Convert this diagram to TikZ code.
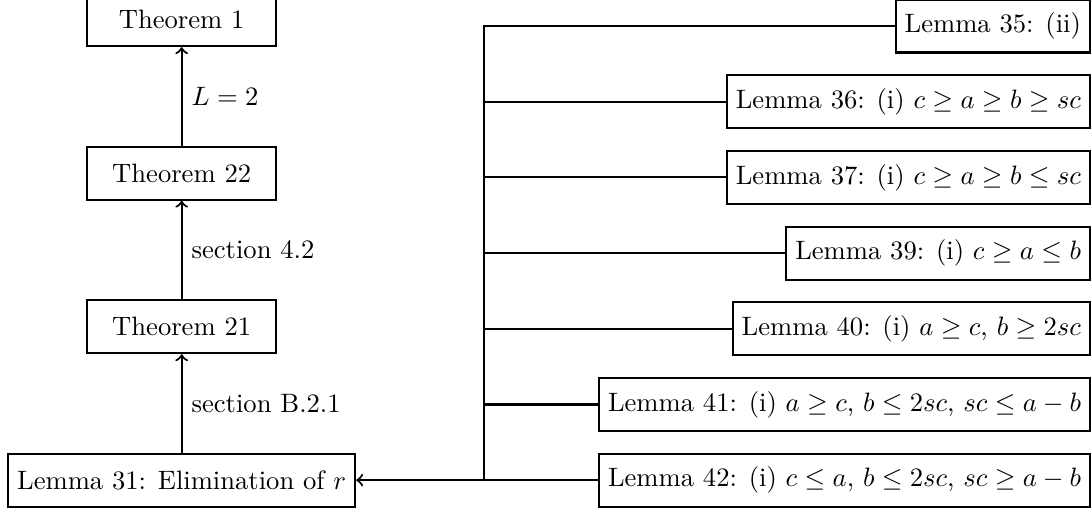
\documentclass[tikz,border=0pt]{standalone}
\usepackage{amsmath}
\usetikzlibrary{positioning,calc}

\begin{document}
\begin{tikzpicture}[thick]
    \useasboundingbox (0,0.343) rectangle (14.425,-6.396);
    \draw
        node[align=center,draw,minimum width=2.5cm,minimum height=0.7cm] (lem31) at (2.40,-6) {Lemma 31: Elimination of $r$}
        node[align=center,draw,above=1.3cm of lem31,minimum width=2.5cm,minimum height=0.7cm] (thm21) {Theorem 21}
        node[align=center,draw,above=1.3cm of thm21,minimum width=2.5cm,minimum height=0.7cm] (thm22) {Theorem 22}
        node[align=center,draw,above=1.3cm of thm22,minimum width=2.5cm,minimum height=0.7cm] (thm1) {Theorem 1}

        node[draw,anchor=east,minimum height=0.7cm] (lem35) at (14.41,0) {Lemma 35: (ii)}
        node[draw,anchor=east,minimum height=0.7cm] (lem36) at (14.41,-1) {Lemma 36: (i) $c \geq a \geq b \geq sc$}
        node[draw,anchor=east,minimum height=0.7cm] (lem37) at (14.41,-2) {Lemma 37: (i) $c \geq a \geq b \leq sc$}
        node[draw,anchor=east,minimum height=0.7cm] (lem39) at (14.41,-3) {Lemma 39: (i) $c \geq a \leq b$}
        node[draw,anchor=east,minimum height=0.7cm] (lem40) at (14.41,-4) {Lemma 40: (i) $a \geq c$, $b \geq 2sc$}
        node[draw,anchor=east,minimum height=0.7cm] (lem41) at (14.41,-5) {Lemma 41: (i) $a \geq c$, $b \leq 2sc$, $sc \leq a-b$}
        node[draw,anchor=east,minimum height=0.7cm] (lem42) at (14.41,-6) {Lemma 42: (i) $c \leq a$, $b \leq 2sc$, $sc \geq a-b$}
    ;
    \coordinate (bus) at (6.39,0);

    \draw [->] (lem31)-- node[right] {section B.2.1} (thm21);
    \draw [->] (thm21)-- node[right] {section 4.2} (thm22);
    \draw [->] (thm22)-- node[right] {$L = 2$} (thm1);

    \draw (lem35)-- (lem35 -| bus)-- (lem42 -| bus);
    \draw (lem36)-- (lem36 -| bus);
    \draw (lem37)-- (lem37 -| bus);
    \draw (lem39)-- (lem39 -| bus);
    \draw (lem40)-- (lem40 -| bus);
    \draw (lem41)-- (lem41 -| bus);
    \draw [->] (lem42)-- (lem31);
\end{tikzpicture}
\end{document}
